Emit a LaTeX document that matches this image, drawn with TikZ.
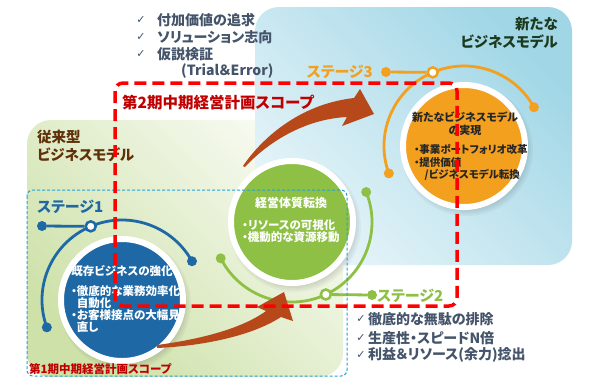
\documentclass[tikz,border=0pt]{standalone}
\usepackage{fontspec}
\setmainfont{Noto Sans CJK JP}[RawFeature=+palt]
\newfontfamily\checkfont{DejaVu Sans}

\definecolor{stblue}{RGB}{30,105,165}
\definecolor{stgreen}{RGB}{141,192,68}
\definecolor{storange}{RGB}{243,160,30}
\definecolor{arrowbrown}{RGB}{182,72,26}
\definecolor{scopered}{RGB}{255,0,0}
\definecolor{labelred}{RGB}{192,0,0}
\definecolor{slate}{RGB}{68,84,106}
\definecolor{oldbrown}{RGB}{96,48,8}
\definecolor{newgreen}{RGB}{28,58,30}
\definecolor{scopecyan}{RGB}{40,160,210}
\definecolor{bgblue}{RGB}{160,214,230}
\definecolor{bggreen}{RGB}{205,225,168}
\definecolor{darktext}{RGB}{38,38,38}

\begin{document}
\begin{tikzpicture}[x=1pt, y=-1pt,
    stagearc/.style={line width=2.8pt},
    enddot/.style={circle, inner sep=0pt, minimum size=10pt},
    opendot/.style={circle, inner sep=0pt, minimum size=10pt, fill=white, line width=2.5pt},
    disc/.style={circle, draw=white, line width=6pt, minimum size=122pt, inner sep=0pt},
    listtext/.style={font=\bfseries\fontsize{14}{16}\selectfont, text=slate, inner sep=0pt, anchor=west},
    checkmark/.style={font=\checkfont\fontsize{11}{11}\selectfont, text=slate, inner sep=0pt},
    headtext/.style={font=\bfseries\fontsize{14.5}{18}\selectfont, inner sep=0pt},
    stagetext/.style={font=\bfseries\fontsize{15}{18}\selectfont, inner sep=0pt},
    circtext/.style={font=\bfseries\fontsize{11.5}{12.5}\selectfont, inner sep=0pt},
    scopebox/.style={draw=scopered, line width=3.5pt, dash pattern=on 12pt off 6pt, rounded corners=8pt}
  ]
  \useasboundingbox (0,0) rectangle (600,384);
  \fill[white] (0,0) rectangle (600,384);

  % backgrounds
  \shade[rounded corners=24pt, top color=white!85!bggreen, bottom color=bggreen, shading angle=-45] (27,120) rectangle (343,377);
  \shade[rounded corners=24pt, top color=bgblue, bottom color=white!75!bgblue, shading angle=-45] (255,7) rectangle (572,265);

  % circles
  \coordinate (c1) at (122,300);
  \coordinate (c2) at (292,222);
  \coordinate (c3) at (464,146);
  \foreach \c in {c1,c2,c3}{
    \foreach \s in {0,2,4,6,8}
      \fill[black, opacity=0.035] ([shift={(3pt,-4pt)}]\c) circle[radius=58pt+\s*1pt];
  }
  \node[disc, fill=stblue] (olddisc) at (c1) {};
  \node[disc, fill=stgreen] (chgdisc) at (c2) {};
  \node[disc, fill=storange] (newdisc) at (c3) {};

  % stage 1
  \draw[stagearc, stblue] (c1) ++(200:80pt) arc[start angle=200, end angle=29, radius=80pt];
  \node[enddot, fill=stblue] (s1a) at ([shift={(200:80pt)}]c1) {};
  \node[enddot, fill=stblue] (s1b) at ([shift={(29:80pt)}]c1) {};
  \node[enddot, fill=stblue] (s1start) at (42,226) {};
  \node[opendot, draw=stblue] (s1open) at ([shift={(113:80pt)}]c1) {};
  \draw[stagearc, stblue] (s1start) -- (s1open);

  % stage 2
  \draw[stagearc, stgreen] (c2) ++(207:80pt) arc[start angle=207, end angle=382, radius=80pt];
  \node[enddot, fill=stgreen] (s2a) at ([shift={(207:80pt)}]c2) {};
  \node[enddot, fill=stgreen] (s2b) at ([shift={(22:80pt)}]c2) {};
  \node[enddot, fill=stgreen] (s2end) at (372,295) {};
  \node[opendot, draw=stgreen] (s2open) at ([shift={(-65:80pt)}]c2) {};
  \draw[stagearc, stgreen] (s2open) -- (s2end);

  % stage 3
  \draw[stagearc, storange] (c3) ++(200:80pt) arc[start angle=200, end angle=29, radius=80pt];
  \node[enddot, fill=storange] (s3a) at ([shift={(200:80pt)}]c3) {};
  \node[enddot, fill=storange] (s3b) at ([shift={(29:80pt)}]c3) {};
  \node[enddot, fill=storange] (s3start) at (386,72) {};
  \node[opendot, draw=storange] (s3open) at ([shift={(113:80pt)}]c3) {};
  \draw[stagearc, storange] (s3start) -- (s3open);

  % circle texts
  \node[circtext, text=white] (oldtitle) at (122,271) {既存ビジネスの強化};
  \node[circtext, text=white, align=left, anchor=north west, font=\bfseries\fontsize{11.5}{12.2}\selectfont] (oldpts) at (71,285)
    {・徹底的な業務効率化・\\\hspace*{0.5em}自動化\\・お客様接点の大幅見\\\hspace*{0.5em}直し};
  \node[circtext, text=white, font=\bfseries\fontsize{12}{13}\selectfont] (chgtitle) at (291,203) {経営体質転換};
  \node[circtext, text=white, align=left, anchor=north west, font=\bfseries\fontsize{11.5}{12}\selectfont] (chgpts) at (242,219)
    {・リソースの可視化\\・機動的な資源移動};
  \node[circtext, text=darktext, align=center, font=\bfseries\fontsize{11}{13}\selectfont] (newtitle) at (465,123.5)
    {新たなビジネスモデル\\の実現};
  \node[circtext, text=darktext, align=left, anchor=north west, font=\bfseries\fontsize{10.5}{12.5}\selectfont] (newpts) at (414,144.5)
    {・事業ポートフォリオ改革\\・提供価値\\\hspace*{1em}/ビジネスモデル転換};

  % arrows
  \fill[arrowbrown] (157,345) .. controls (195,340) and (240,330) .. (266,311) -- (257,307) -- (284,292)
    -- (293,321) -- (281,317) .. controls (250,337) and (200,346) .. (157,348) -- cycle;
  \fill[arrowbrown] (243,166) .. controls (262,138) and (300,104) .. (354,98) -- (360,89) -- (374,114)
    -- (342,126) -- (347,117) .. controls (305,119) and (268,142) .. (245,167) -- cycle;

  % headings and lists
  \node[headtext, text=oldbrown, align=left, anchor=west] (oldmodel) at (37,146) {従来型\\ビジネスモデル};
  \node[headtext, text=newgreen, align=right, anchor=east] (newmodel) at (558,33.5) {新たな\\ビジネスモデル};

  \node[checkmark] (chk1) at (141,20) {✓};
  \node[checkmark] (chk2) at (141,37) {✓};
  \node[checkmark] (chk3) at (141,54) {✓};
  \node[listtext] (valuepts1) at (157,20) {付加価値の追求};
  \node[listtext] (valuepts2) at (157,37) {ソリューション志向};
  \node[listtext] (valuepts3) at (157,54) {仮説検証};
  \node[listtext] (valuepts4) at (181,71) {(Trial＆Error)};

  \node[checkmark] (chk4) at (361,319) {✓};
  \node[checkmark] (chk5) at (361,338) {✓};
  \node[checkmark] (chk6) at (361,355) {✓};
  \node[listtext] (effpts1) at (368,319) {徹底的な無駄の排除};
  \node[listtext] (effpts2) at (368,338) {生産性・スピードN倍};
  \node[listtext] (effpts3) at (368,355) {利益＆リソース(余力)捻出};

  \node[stagetext, text=stblue, anchor=west] (stage1) at (37,207) {ステージ1};
  \node[stagetext, text=stgreen, anchor=west] (stage2) at (377,296) {ステージ2};
  \node[stagetext, text=storange, anchor=east] (stage3) at (373,72) {ステージ3};

  % scopes
  \draw[scopecyan, line width=1pt, dash pattern=on 3pt off 2pt, rounded corners=6pt] (27,190) rectangle (347,376);
  \draw[scopebox] (115,83) rectangle (457,306);
  \node[headtext, text=labelred, anchor=west, font=\bfseries\fontsize{15.5}{18}\selectfont] (scope2) at (122,103) {第2期中期経営計画スコープ};
  \node[headtext, text=labelred, anchor=west, font=\bfseries\fontsize{11.5}{12}\selectfont] (scope1) at (29,369) {第1期中期経営計画スコープ};
\end{tikzpicture}
\end{document}
